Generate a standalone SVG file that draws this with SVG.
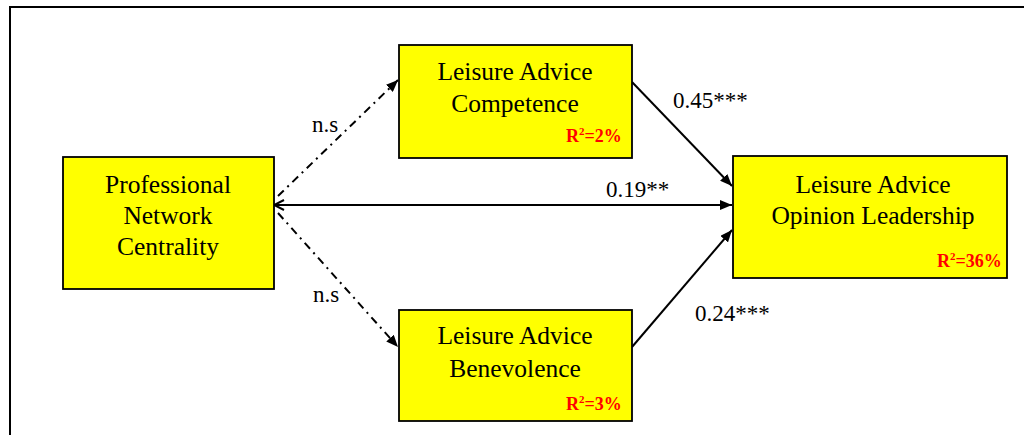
<svg xmlns="http://www.w3.org/2000/svg" width="1024" height="435" viewBox="0 0 1024 435">
<defs>
<style>
.box{fill:#ffff00;stroke:#000;stroke-width:1.8}
text{font-family:'Liberation Serif','Times New Roman',Times,serif}
.t{font-size:25.5px;fill:#000;text-anchor:middle}
.lbl{font-size:23px;fill:#000}
.r2{font-size:18px;font-weight:bold;fill:#ff0000}
.sup{font-size:11px}
.ln{stroke:#000;stroke-width:2;fill:none}
.dd{stroke:#000;stroke-width:2;fill:none;stroke-dasharray:8,5,2,5}
</style>
<marker id="fa" viewBox="0 0 12 10" refX="12" refY="5" markerWidth="12" markerHeight="10" markerUnits="userSpaceOnUse" orient="auto">
<path d="M0,0 L12,5 L0,10 Z" fill="#000"/>
</marker>
<marker id="oa" viewBox="0 0 12 12" refX="1" refY="6" markerWidth="12" markerHeight="12" markerUnits="userSpaceOnUse" orient="auto">
<path d="M11,1 L1,6 L11,11" fill="none" stroke="#000" stroke-width="2"/>
</marker>
</defs>
<rect width="1024" height="435" fill="#fff"/>
<path d="M10,440 L10,7 L1030,7" fill="none" stroke="#000" stroke-width="2"/>
<g id="connectors">
<line class="ln" x1="274" y1="205" x2="732" y2="205" marker-start="url(#oa)" marker-end="url(#fa)"/>
<line class="dd" x1="278" y1="196" x2="398" y2="80" marker-end="url(#fa)"/>
<line class="dd" x1="278" y1="213" x2="398" y2="347" marker-end="url(#fa)"/>
<line class="ln" x1="632" y1="82" x2="732" y2="186" marker-end="url(#fa)"/>
<line class="ln" x1="632" y1="347" x2="732" y2="230" marker-end="url(#fa)"/>
<text class="lbl" x="673" y="108">0.45***</text>
<text class="lbl" x="606" y="197">0.19**</text>
<text class="lbl" x="695" y="321">0.24***</text>
<text class="lbl" x="312" y="132">n.s</text>
<text class="lbl" x="313" y="302">n.s</text>
</g>
<g id="pnc">
<rect class="box" x="63" y="157" width="211" height="132"/>
<text class="t" x="168" y="193">Professional</text>
<text class="t" x="168" y="224">Network</text>
<text class="t" x="168" y="255">Centrality</text>
</g>
<g id="competence">
<rect class="box" x="399" y="45" width="233" height="113"/>
<text class="t" x="515" y="80">Leisure Advice</text>
<text class="t" x="515" y="112">Competence</text>
<text class="r2" x="566" y="142">R<tspan class="sup" dy="-7">2</tspan><tspan dy="7">=2%</tspan></text>
</g>
<g id="benevolence">
<rect class="box" x="399" y="310" width="233" height="111"/>
<text class="t" x="515" y="344">Leisure Advice</text>
<text class="t" x="515" y="377">Benevolence</text>
<text class="r2" x="566" y="410">R<tspan class="sup" dy="-7">2</tspan><tspan dy="7">=3%</tspan></text>
</g>
<g id="leadership">
<rect class="box" x="733" y="156" width="274" height="122"/>
<text class="t" x="873" y="193">Leisure Advice</text>
<text class="t" x="873" y="224">Opinion Leadership</text>
<text class="r2" x="937" y="267">R<tspan class="sup" dy="-7">2</tspan><tspan dy="7">=36%</tspan></text>
</g>
</svg>
